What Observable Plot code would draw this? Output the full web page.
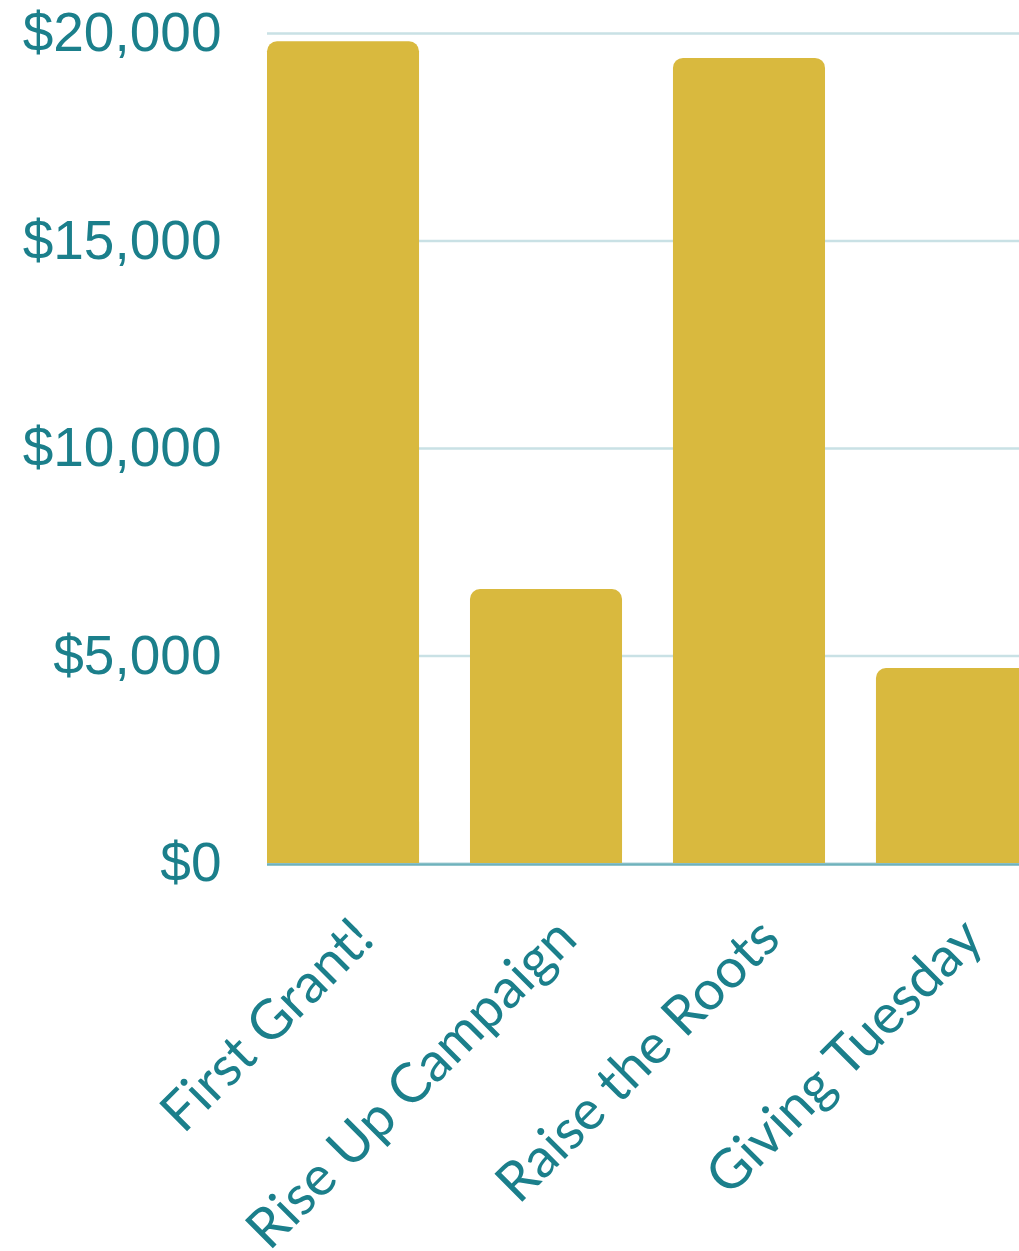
<!DOCTYPE html>
<html><head><meta charset="utf-8">
<script src="https://cdn.jsdelivr.net/npm/d3@7"></script>
<script src="https://cdn.jsdelivr.net/npm/@observablehq/plot@0.6"></script>
<style>html,body{margin:0;padding:0;background:#fff;overflow:hidden;} svg{overflow:hidden;}</style>
</head><body><div id="chart"></div>
<script>
const campaigns = ["First Grant!", "Rise Up Campaign", "Raise the Roots", "Giving Tuesday"];
const amounts = [19800, 6600, 19400, 4700];
const yTicks = [0, 5000, 10000, 15000, 20000];
const data = campaigns.map((c, i) => ({campaign: c, amount: amounts[i]}));
const teal = "#1b7f8b";
const barColor = "#d9b93e";
const chart = Plot.plot({
  width: 1019, height: 1251,
  marginLeft: 267, marginRight: -9, marginTop: 33, marginBottom: 388,
  style: {background: "white", overflow: "hidden"},
  x: {domain: campaigns, paddingInner: 0.251, paddingOuter: 0, align: 0, round: false, axis: null},
  y: {domain: [0, 20000], axis: null},
  marks: [
    Plot.gridY(yTicks, {stroke: "#c9e1e5", strokeOpacity: 1, strokeWidth: 2.5}),
    Plot.ruleY([0], {stroke: "#6fb2bc", strokeWidth: 2.5, dy: 1}),
    Plot.barY(data, {x: "campaign", y: "amount", fill: barColor, rx: 10}),
    Plot.barY(data, {x: "campaign", y1: 0, y2: d => Math.min(d.amount, 1000), fill: barColor}),
    Plot.axisY(yTicks, {label: null, tickSize: 0, tickPadding: 46, tickFormat: d3.format("$,"), fontSize: 55, fontFamily: "Liberation Sans", fill: teal}),
    Plot.text(data, {x: "campaign", frameAnchor: "bottom", text: "campaign", rotate: -45, textAnchor: "end", lineAnchor: "bottom", dx: 33, dy: 78, fontSize: 55, fontFamily: "Lato", fill: teal})
  ]
});
document.getElementById("chart").appendChild(chart);
</script>
</body></html>
